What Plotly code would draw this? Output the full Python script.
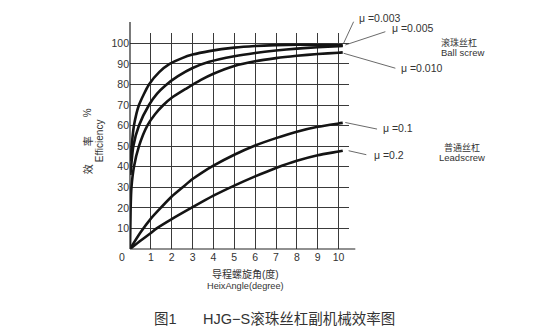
import plotly.graph_objects as go

# ---- data ----
angle_003 = [0.03, 0.08, 0.19, 0.43, 0.91, 1.4, 1.9, 2.5, 3.0, 3.8, 5, 6, 7, 8, 9, 10, 10.2]
eff_003 = [42.6, 50, 60, 70, 80, 86, 90, 92.8, 94.5, 96.2, 97.9, 98.7, 99.1, 99.3, 99.2, 99.0, 99.0]

angle_005 = [0.02, 0.16, 0.43, 0.91, 1.3, 1.7, 2.3, 3.0, 3.8, 5, 6, 7, 8, 9, 10, 10.2]
eff_005 = [36, 50, 60, 70, 75.5, 79.5, 84, 88, 91.0, 93.7, 95.3, 96.5, 97.4, 98.1, 98.6, 98.7]

angle_010 = [0, 0.03, 0.07, 0.19, 0.43, 0.83, 1.2, 1.6, 2.0, 2.7, 3.4, 4, 5, 6, 7, 8, 9, 10, 10.2]
eff_010 = [0, 20, 30, 40, 50, 60, 65.5, 70, 73.5, 78, 82.2, 85.2, 89, 91.3, 92.8, 93.9, 94.8, 95.4, 95.6]

angle_01 = [0, 0.5, 1, 1.5, 2, 2.56, 3, 3.4, 4, 5, 6, 7, 8, 9, 10, 10.2]
eff_01 = [0, 8, 14.8, 20.3, 25.5, 30.3, 34, 36.8, 40.5, 45.8, 50.3, 53.9, 57, 59.4, 61, 61.3]

angle_02 = [0, 0.5, 1, 1.28, 2, 3, 4, 5, 6, 7, 8, 9, 10, 10.2]
eff_02 = [0, 4, 7.8, 10, 14.5, 20.3, 25.9, 30.8, 35.3, 39.4, 42.9, 45.6, 47.4, 47.8]

x_ticks = [1, 2, 3, 4, 5, 6, 7, 8, 9, 10]
y_ticks = [10, 20, 30, 40, 50, 60, 70, 80, 90, 100]

mu_labels = ["μ =0.003", "μ =0.005", "μ =0.010", "μ =0.1", "μ =0.2"]

# ---- layout geometry (pixels) ----
W, H = 547, 330
L, R_EDGE, T, B_EDGE = 130, 348.7, 33, 249.5
PW, PH = R_EDGE - L, B_EDGE - T

def px(xp):
    return (xp - L) / PW

def py(yp):
    return (B_EDGE - yp) / PH

FONT = "Liberation Sans, Arial, Noto Sans CJK SC, sans-serif"
TXT = "#333333"

fig = go.Figure()
series = [(angle_003, eff_003), (angle_005, eff_005), (angle_010, eff_010),
          (angle_01, eff_01), (angle_02, eff_02)]
for xs, ys in series:
    fig.add_trace(go.Scatter(x=xs, y=ys, mode="lines",
                             line=dict(color="#141414", width=2.6, shape="spline", smoothing=0.6),
                             hoverinfo="skip", showlegend=False))

fig.update_layout(
    width=W, height=H,
    margin=dict(l=L, r=W - R_EDGE, t=T, b=H - B_EDGE, pad=0),
    paper_bgcolor="white", plot_bgcolor="white",
    font=dict(family=FONT, size=10.5, color=TXT),
    showlegend=False,
    xaxis=dict(range=[0, 10.5], tickvals=x_ticks, ticktext=[str(v) for v in x_ticks],
               showgrid=True, gridcolor="#3a3a3a", gridwidth=1,
               zeroline=False, showline=False, ticks="", tickfont=dict(size=10.5, color=TXT)),
    yaxis=dict(range=[0, 105], tickvals=y_ticks, ticktext=[str(v) for v in y_ticks],
               showgrid=True, gridcolor="#3a3a3a", gridwidth=1,
               zeroline=False, showline=False, ticks="", tickfont=dict(size=10.5, color=TXT)),
)

# axis lines extending beyond the grid
shapes = [
    dict(type="line", xref="paper", yref="paper", x0=0, x1=0, y0=0, y1=py(22),
         line=dict(color="#222", width=1.2)),
    dict(type="line", xref="paper", yref="paper", x0=0, x1=px(355), y0=0, y1=0,
         line=dict(color="#222", width=1.2)),
]
# leader lines
leaders = [((343.3, 43.3), (353.3, 21.7)),
           ((345, 45), (385, 31.7)),
           ((343.3, 53.3), (395, 68.3)),
           ((345, 122.7), (376.7, 129.3)),
           ((348.3, 151), (366, 155))]
for (a, b) in leaders:
    shapes.append(dict(type="line", xref="paper", yref="paper",
                       x0=px(a[0]), y0=py(a[1]), x1=px(b[0]), y1=py(b[1]),
                       line=dict(color="#444", width=0.8)))
fig.update_layout(shapes=shapes)

ann = []
def text(t, xp, yp, size=10.5, xanchor="center", angle=0, color=TXT):
    ann.append(dict(text=t, x=px(xp), y=py(yp), xref="paper", yref="paper",
                    xanchor=xanchor, yanchor="middle", showarrow=False,
                    textangle=angle, font=dict(size=size, color=color, family=FONT)))

# corner zero
text("0", 122.5, 257.5)
# mu labels
text(mu_labels[0], 357, 18, xanchor="left")
text(mu_labels[1], 390, 28, xanchor="left")
text(mu_labels[2], 399, 68, xanchor="left")
text(mu_labels[3], 381, 128.5, xanchor="left")
text(mu_labels[4], 372, 155, xanchor="left")
# group labels
text("滚珠丝杠", 459, 42.5, size=9)
text("Ball screw", 462, 52.5, size=9.5)
text("普通丝杠", 461.5, 147.5, size=9)
text("Leadscrew", 462, 158, size=9.5)
# axis titles
text("导程螺旋角(度)", 245, 275, size=10)
text("HeixAngle(degree)", 245, 287, size=9.2)
text("效", 87.5, 169, size=10, angle=-90)
text("率", 87.5, 141, size=10, angle=-90)
text("%", 87.5, 113, size=10, angle=-90)
text("Efficiency", 99.5, 141, size=10, angle=-90)
# caption
text("图1", 165.5, 320, size=14.5)
text("HJG−S滚珠丝杠副机械效率图", 299, 320, size=14.5)

fig.update_layout(annotations=ann)
fig.write_html("out.html")
